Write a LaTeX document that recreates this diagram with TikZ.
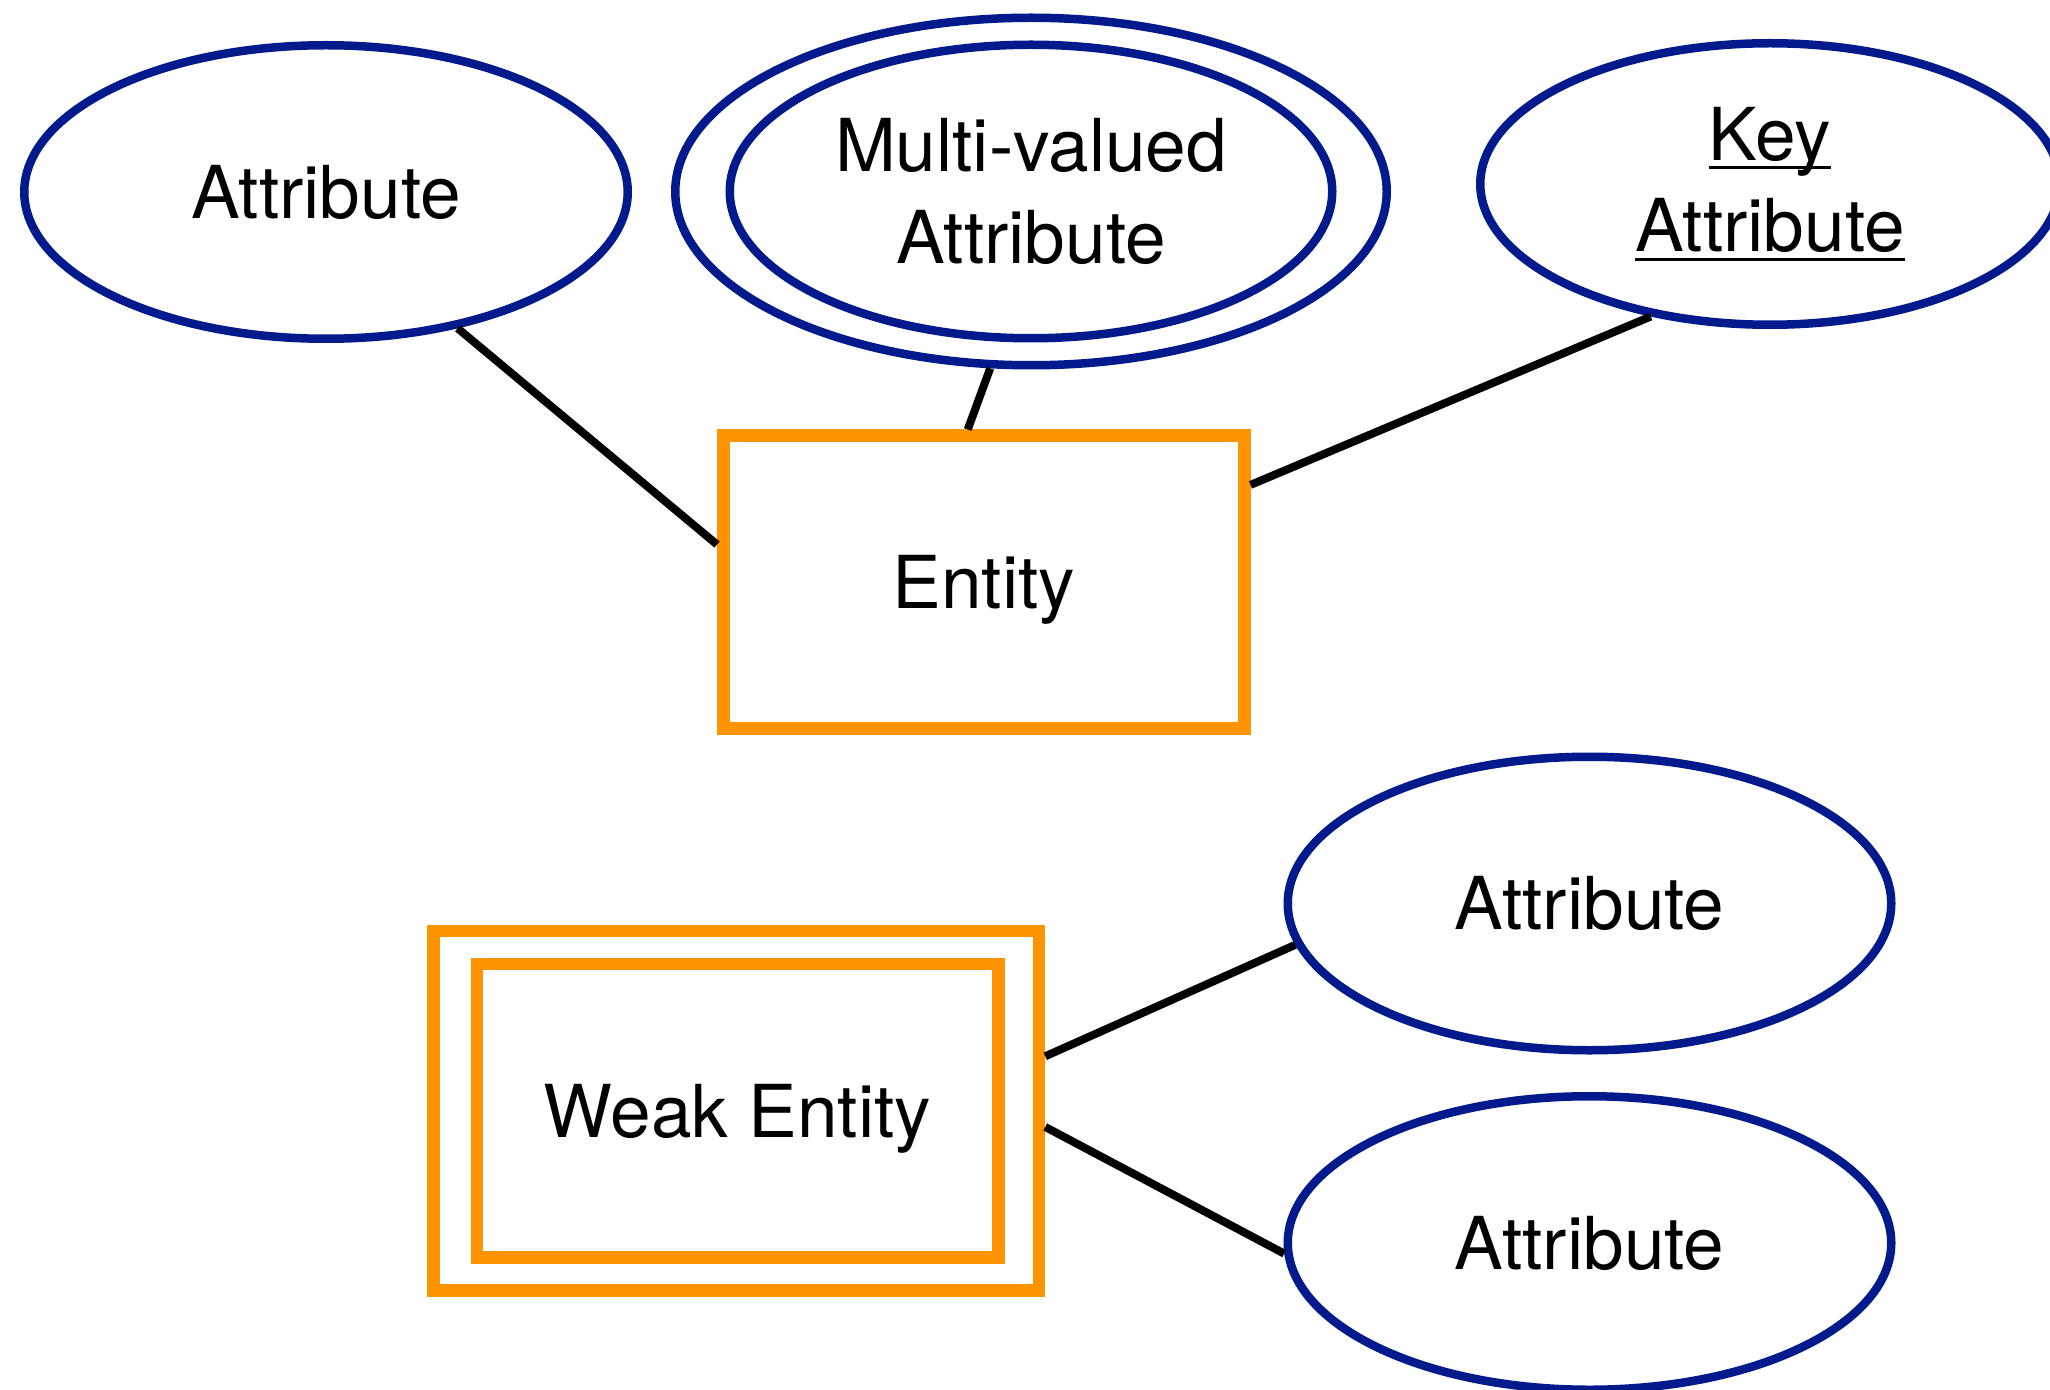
\documentclass[tikz,border=0pt]{standalone}
\usepackage{fontspec}
\setmainfont{TeX Gyre Heros}
\usetikzlibrary{shapes.geometric}
\definecolor{attrblue}{RGB}{2,26,140}
\definecolor{entorange}{RGB}{255,147,0}
\newcommand\keyul[1]{\setbox0\hbox{#1}\rlap{\rule[-4.6pt]{\wd0}{1.7pt}}\box0}
\begin{document}
\begin{tikzpicture}[x=0.5pt,y=-0.5pt,
  lbl/.style={font=\fontsize{36.5}{45.75}\selectfont, align=center, text=black},
  attr/.style={ellipse, draw=attrblue, line width=4.25pt, inner sep=0pt, fill=white,
    minimum width=301.75pt, minimum height=146.75pt, lbl},
  entbox/.style={rectangle, draw=entorange, line width=6.25pt, inner sep=0pt, text depth=0pt,
    minimum width=260.5pt, minimum height=146.25pt, lbl},
  link/.style={draw=black, line width=4pt}]
\fill[white] (0,0) rectangle (2050,1390);
\useasboundingbox (0,0) rectangle (2050,1390);

% top row
\node[attr] (a1) at (326,192) {Attribute};
\node[attr, minimum width=355.75pt, minimum height=173.75pt] (multi) at (1031,191.5) {};
\node[attr, minimum width=301.25pt, minimum height=146.75pt] (multiin) at (1031,191.5) {Multi-valued\\Attribute};
\node[attr, minimum width=289.75pt, minimum height=140.75pt] (key) at (1770,184) {\keyul{Key}\\\keyul{Attribute}};

% entity
\node[entbox] (ent) at (983.75,582) {Entity};

% weak entity
\node[entbox, minimum width=302.75pt, minimum height=179.75pt] (weak) at (736.25,1110.75) {};
\node[entbox, minimum width=260.75pt, minimum height=146.75pt] (weakin) at (737.5,1110.75) {Weak Entity};

% bottom attributes
\node[attr] (b1) at (1589.5,903.5) {Attribute};
\node[attr] (b2) at (1589.5,1243) {Attribute};

% connectors
\draw[link] (a1.-46.4) -- (ent.172.2);
\draw[link] (multi.-103.6) -- (ent.96.3);
\draw[link] (key.-132.8) -- (ent.20.2);
\draw[link] (weak.10.8) -- (b1.-172.1);
\draw[link] (weak.-3.7) -- (b2.-178.6);
\end{tikzpicture}
\end{document}
